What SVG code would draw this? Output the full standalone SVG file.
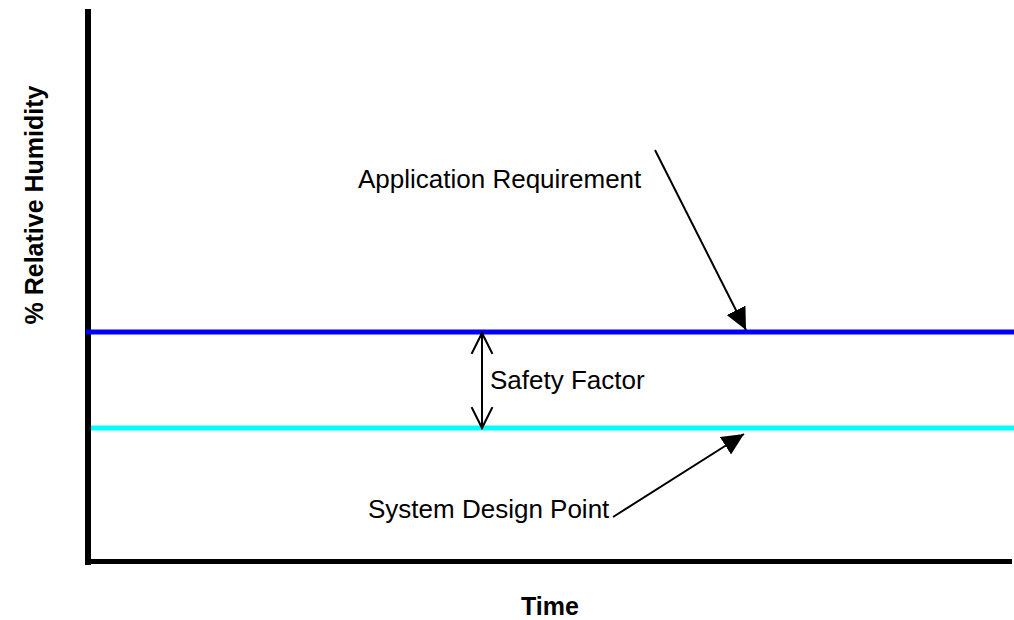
<svg xmlns="http://www.w3.org/2000/svg" width="1014" height="620" viewBox="0 0 1014 620">
  <style>
    .label { font-family: "Liberation Sans", Arial, sans-serif; font-size: 26px; fill: #000; }
    .axis-title { font-family: "Liberation Sans", Arial, sans-serif; font-size: 25px; font-weight: bold; fill: #000; }
    .pointer { stroke: #000; stroke-width: 2; fill: none; }
  </style>
  <defs>
    <marker id="solid-head" markerUnits="userSpaceOnUse" markerWidth="22" markerHeight="22" viewBox="0 0 21 20" refX="21" refY="10" orient="auto">
      <path d="M0,0 L21,10 L0,20 Z" fill="#000"/>
    </marker>
    <marker id="open-head" markerUnits="userSpaceOnUse" markerWidth="24" markerHeight="24" viewBox="-1 -1 23 22" refX="20" refY="10" orient="auto-start-reverse">
      <path d="M0,0 L20,10 L0,20" fill="none" stroke="#000" stroke-width="2"/>
    </marker>
  </defs>

  <rect width="1014" height="620" fill="#fff"/>

  <!-- design level lines -->
  <g id="system-design-line">
    <line x1="90" y1="428" x2="1014" y2="428" stroke="#00ffff" stroke-width="5"/>
  </g>

  <!-- axes -->
  <g id="axes">
    <line x1="88" y1="9" x2="88" y2="565" stroke="#000" stroke-width="6"/>
    <line x1="88" y1="561.5" x2="1012" y2="561.5" stroke="#000" stroke-width="5"/>
  </g>

  <g id="requirement-line">
    <line x1="86" y1="332" x2="1014" y2="332" stroke="#0000ff" stroke-width="5"/>
  </g>

  <!-- axis titles -->
  <g id="y-axis-title">
    <text class="axis-title" transform="translate(43,205) rotate(-90)" text-anchor="middle">% Relative Humidity</text>
  </g>
  <g id="x-axis-title">
    <text class="axis-title" x="550" y="615" text-anchor="middle">Time</text>
  </g>

  <!-- annotations -->
  <g id="application-requirement">
    <text class="label" x="358" y="188">Application Requirement</text>
  </g>
  <g id="safety-factor">
    <text class="label" x="490" y="389">Safety Factor</text>
  </g>
  <g id="system-design-point">
    <text class="label" x="368" y="518">System Design Point</text>
  </g>

  <g id="connectors">
    <line class="pointer" x1="655" y1="150" x2="746" y2="330" marker-end="url(#solid-head)"/>
    <line class="pointer" x1="613" y1="517" x2="744" y2="434" marker-end="url(#solid-head)"/>
    <line class="pointer" x1="482" y1="333" x2="482" y2="428" marker-start="url(#open-head)" marker-end="url(#open-head)"/>
  </g>
</svg>
